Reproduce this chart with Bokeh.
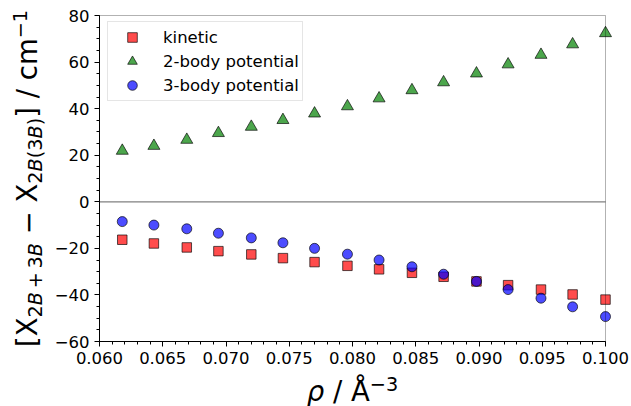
import math

from bokeh.embed import file_html
from bokeh.models import (BoxAnnotation, CustomJSTickFormatter, Label, Legend,
                          LegendItem, LinearAxis, NumeralTickFormatter,
                          Range1d, SingleIntervalTicker)
from bokeh.plotting import figure
from bokeh.resources import INLINE

# number density (1/Å^3) and the decomposed frequency shift (cm^-1)
density = [0.0618, 0.0643, 0.0669, 0.0694, 0.0720, 0.0745, 0.0770, 0.0796,
           0.0821, 0.0847, 0.0872, 0.0898, 0.0923, 0.0949, 0.0974, 0.1000]
kinetic = [-16.3, -17.9, -19.6, -21.2, -22.6, -24.2, -25.9, -27.5,
           -29.0, -30.5, -32.2, -34.2, -35.8, -37.7, -39.8, -42.0]
two_body = [21.9, 24.0, 26.6, 29.5, 32.2, 35.1, 37.9, 41.0,
            44.4, 47.9, 51.3, 55.1, 59.0, 63.1, 67.6, 72.4]
three_body = [-8.5, -10.0, -11.6, -13.5, -15.5, -17.6, -20.0, -22.5,
              -25.0, -27.9, -31.1, -34.2, -37.7, -41.4, -45.1, -49.3]
series_names = ["kinetic", "2-body potential", "3-body potential"]

X_LIMITS = (0.060, 0.100)
Y_LIMITS = (-60, 80)

FONT = "DejaVu Sans"
W, H = 631, 406
# axes box inside the canvas (px from the top-left corner)
BOX_L, BOX_R, BOX_T, BOX_B = 99, 605, 15, 341

# the plotting frame covers the whole canvas so the axis titles are not
# clipped; the ranges are widened so the axes box lands on BOX_*
x_per_px = (X_LIMITS[1] - X_LIMITS[0]) / (BOX_R - BOX_L)
y_per_px = (Y_LIMITS[1] - Y_LIMITS[0]) / (BOX_B - BOX_T)
x_range = Range1d(X_LIMITS[0] - BOX_L * x_per_px,
                  X_LIMITS[1] + (W - BOX_R) * x_per_px)
y_range = Range1d(Y_LIMITS[0] - (H - BOX_B) * y_per_px,
                  Y_LIMITS[1] + BOX_T * y_per_px)

p = figure(width=W, height=H, output_backend="svg", toolbar_location=None,
           x_range=x_range, y_range=y_range,
           x_axis_location=None, y_axis_location=None,
           min_border=0, min_border_left=0, min_border_right=0,
           min_border_top=0, min_border_bottom=0)
p.xgrid.visible = False
p.ygrid.visible = False
p.outline_line_color = None
p.background_fill_color = "white"
p.border_fill_color = "white"

eps_x = 1e-6
eps_y = 1e-6
xaxis = LinearAxis(fixed_location=Y_LIMITS[0],
                   bounds=(X_LIMITS[0] - eps_x, X_LIMITS[1] + eps_x),
                   ticker=SingleIntervalTicker(interval=0.005, num_minor_ticks=5),
                   formatter=NumeralTickFormatter(format="0.000"))
yaxis = LinearAxis(fixed_location=X_LIMITS[0],
                   bounds=(Y_LIMITS[0] - eps_y, Y_LIMITS[1] + eps_y),
                   ticker=SingleIntervalTicker(interval=20, num_minor_ticks=4),
                   formatter=CustomJSTickFormatter(
                       code="return tick < 0 ? '\u2212' + Math.abs(tick) : String(tick);"))
for ax in (xaxis, yaxis):
    ax.axis_line_color = "black"
    ax.axis_line_width = 1
    ax.major_tick_line_color = "black"
    ax.minor_tick_line_color = "black"
    ax.major_tick_in = 0
    ax.major_tick_out = 5
    ax.minor_tick_in = 0
    ax.minor_tick_out = 3
    ax.major_label_text_font = FONT
    ax.major_label_text_font_size = "16.5px"
    ax.major_label_text_color = "black"
    ax.major_label_standoff = 5
p.add_layout(xaxis, "below")
p.add_layout(yaxis, "left")

# frame around the axes area
p.add_layout(BoxAnnotation(left=X_LIMITS[0], right=X_LIMITS[1],
                           bottom=Y_LIMITS[0], top=Y_LIMITS[1],
                           fill_alpha=0, line_color="black", line_width=1))

# zero reference line across the axes
p.line(list(X_LIMITS), [0, 0], line_color="#808080", line_width=1.2)

r_kin = p.scatter(density, kinetic, marker="square", size=9.5,
                  fill_color="red", fill_alpha=0.7,
                  line_color="black", line_alpha=0.65, line_width=1)
r_two = p.scatter(density, two_body, marker="triangle", size=12,
                  fill_color="green", fill_alpha=0.7,
                  line_color="black", line_alpha=0.65, line_width=1)
r_three = p.scatter(density, three_body, marker="circle", size=10,
                    fill_color="blue", fill_alpha=0.7,
                    line_color="black", line_alpha=0.65, line_width=1)

legend = Legend(items=[LegendItem(label=series_names[0], renderers=[r_kin]),
                       LegendItem(label=series_names[1], renderers=[r_two]),
                       LegendItem(label=series_names[2], renderers=[r_three])],
                location=(BOX_L + 8, H - 101), padding=3, spacing=0,
                glyph_width=42, glyph_height=24, label_height=24,
                label_standoff=10, label_text_font=FONT,
                label_text_font_size="16.5px", label_text_color="black",
                border_line_color="#cccccc", border_line_width=1,
                background_fill_color="white", background_fill_alpha=0.8)
p.add_layout(legend)

# axis titles built from text runs (DejaVu Sans advance widths, em)
ADV = {"[": 0.390, "]": 0.390, "X": 0.684, "\u2212": 0.838,
       "/": 0.337, "c": 0.550, "m": 0.974, "1": 0.636, "2": 0.636,
       "3": 0.636, "B": 0.686, "+": 0.838, "(": 0.390, ")": 0.390,
       "\u03c1": 0.635, "\u00c5": 0.684}
SPACE = 0.318

FS = 27.5          # title size
SS = FS * 0.7      # script size
SUB = 0.18 * FS    # subscript drop
SUP = 0.36 * FS    # superscript raise
GAP_SCRIPT = 0.195 * SS
MID = 0.355        # text middle above the baseline, in em


def compose(runs, start, base, vertical):
    pos = 0.0
    for text, size, shift, italic in runs:
        if text == "":
            pos += size
            continue
        # labels are anchored at the middle of the text box
        off = shift - MID * size
        if vertical:
            cx, cy = base + off, start - pos
            angle = math.pi / 2
        else:
            cx, cy = start + pos, base + off
            angle = 0
        p.add_layout(Label(x=cx, y=H - cy, x_units="screen", y_units="screen",
                           text=text, angle=angle, text_font=FONT,
                           text_font_size=f"{size:.2f}px",
                           text_font_style="italic" if italic else "normal",
                           text_color="black", text_align="left",
                           text_baseline="middle"))
        pos += sum(ADV[c] for c in text) * size


def total(runs):
    return sum(s if t == "" else sum(ADV[c] for c in t) * s
               for t, s, _, _ in runs)


y_runs = [("[X", FS, 0, False),
          ("2", SS, SUB, False), ("B", SS, SUB, True), ("", GAP_SCRIPT, 0, 0),
          ("+", SS, SUB, False), ("", GAP_SCRIPT, 0, 0),
          ("3", SS, SUB, False), ("B", SS, SUB, True),
          ("", SPACE * FS, 0, 0), ("\u2212", FS, 0, False),
          ("", SPACE * FS, 0, 0), ("X", FS, 0, False),
          ("2", SS, SUB, False), ("B", SS, SUB, True), ("(", SS, SUB, False),
          ("3", SS, SUB, False), ("B", SS, SUB, True), (")", SS, SUB, False),
          ("]", FS, 0, False), ("", SPACE * FS, 0, 0), ("/", FS, 0, False),
          ("", SPACE * FS, 0, 0), ("cm", FS, 0, False),
          ("\u22121", SS, -SUP, False)]
x_runs = [("\u03c1", FS, 0, True), ("", SPACE * FS, 0, 0), ("/", FS, 0, False),
          ("", SPACE * FS, 0, 0), ("\u00c5", FS, 0, False),
          ("\u22123", SS, -SUP, False)]

mid_y = (BOX_T + BOX_B) / 2
mid_x = (BOX_L + BOX_R) / 2
compose(y_runs, mid_y + total(y_runs) / 2, 36.5, True)
compose(x_runs, mid_x - total(x_runs) / 2, 400, False)

open("out.html", "w").write(file_html(p, INLINE))
